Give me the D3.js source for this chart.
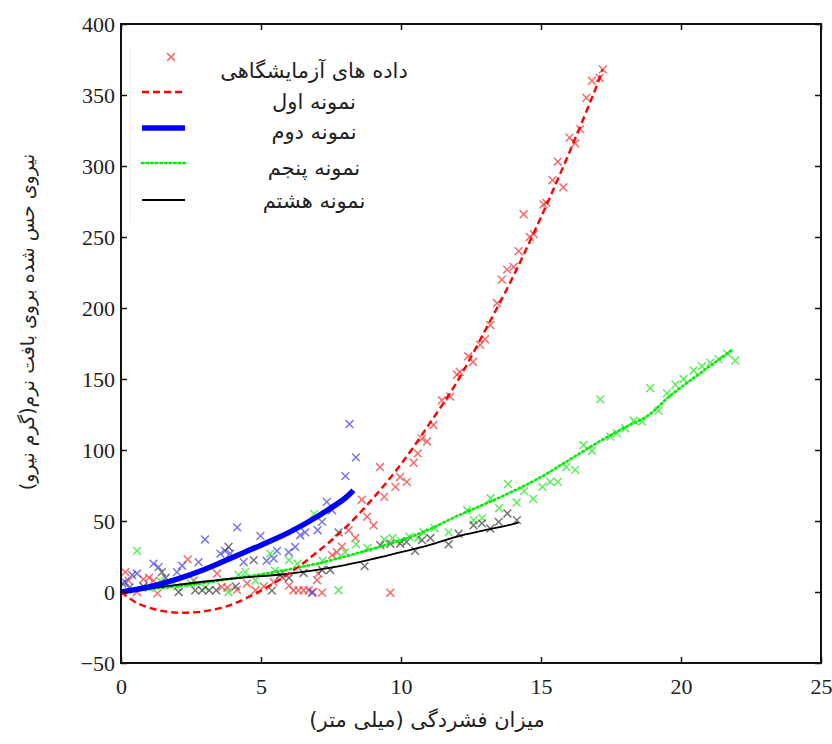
<!DOCTYPE html>
<html><head><meta charset="utf-8">
<script src="https://cdn.jsdelivr.net/npm/d3@7"></script>
<style>
html,body{margin:0;padding:0;background:#fff;}
svg{display:block;}
</style></head>
<body><svg id="chart" width="832" height="744"></svg>
<script>
// ---- data ----
const xTicks = [0, 5, 10, 15, 20, 25];
const yTicks = [-50, 0, 50, 100, 150, 200, 250, 300, 350, 400];
const xTitle = "میزان فشردگی (میلی متر)";
const yTitle = "نیروی حس شده بروی بافت نرم(گرم نیرو)";
const legendLabels = ["داده های آزمایشگاهی", "نمونه اول", "نمونه دوم", "نمونه پنجم", "نمونه هشتم"];

// fitted curves
const curve1 = [[0,0],[0.5,-7],[1,-11],[1.5,-13.5],[2,-14.5],[2.5,-14.5],[3,-13.5],[3.5,-11.5],[4,-8.5],[5,1],[6,13],[7,28],[8,45],[9,66],[10,90],[11,118],[12,148],[13,184],[14,222],[15,264],[16,309],[17,357],[17.2,368]];
const curve2 = [[0,0],[1,3.5],[2,9],[3,16],[4,24.5],[5,33],[6,42],[7,53],[8,66],[8.3,71.5]];
const curve5 = [[0,0],[1,2],[2,4],[3,6.5],[4,9.5],[5,12.5],[6,16],[7,20],[8,25],[9,30.5],[10,36.5],[11,44],[12,53.5],[13,62],[14,71],[15,81],[16,93],[17,105],[18,116],[18.8,124],[19.6,138],[20.4,150],[21.1,160],[21.8,170]];
const curve8 = [[0,0],[2,5],[4,9.5],[6,13],[8,19],[10,28],[11,33],[12,39],[13,43.5],[14,47.8],[14.2,49]];

// experimental points
const pts1 = [[0.15,14],[0.27,8],[0.57,0],[0.8,9],[1.0,10],[1.16,8],[1.3,-1],[2.38,23],[2.6,8],[3.43,13],[3.6,3.5],[3.8,3],[4.14,1.5],[4.5,6],[4.8,1.2],[5.1,4],[5.45,7],[5.75,10.5],[6.0,4.5],[6.16,1.2],[6.34,1.2],[6.52,1.2],[6.7,1.2],[6.85,0],[7.0,8.3],[7.05,13],[7.18,-0.5],[7.54,26],[7.71,28],[7.89,32],[8.13,43.5],[8.37,38],[8.6,65],[8.79,53],[9.02,47],[9.25,88],[9.4,67],[9.62,-0.5],[9.8,74],[9.97,81],[10.21,77.6],[10.45,91],[10.6,97.6],[10.75,108],[10.93,106],[11.16,117.6],[11.46,135],[11.76,137.6],[12.0,153],[12.1,155],[12.4,166],[12.57,162],[12.83,174],[13.0,178],[13.19,188],[13.43,203.5],[13.6,220],[13.79,227],[14.02,229],[14.2,240],[14.38,266],[14.6,250],[14.74,252],[15.09,273],[15.19,274],[15.41,290],[15.6,303],[15.8,285],[16.02,320],[16.22,316],[16.4,326],[16.62,348],[16.82,360],[17.09,362],[17.21,368]];
const pts2 = [[0.05,6],[0.15,7],[0.4,12],[0.57,13],[1.16,20],[1.34,17.5],[2.0,14],[2.18,18.5],[2.77,21],[3.0,37],[3.55,27],[3.72,29],[3.9,27],[4.15,45.5],[4.38,21],[4.98,39.5],[5.2,22],[5.45,23.5],[5.57,29],[5.99,28],[6.22,31.7],[6.4,40],[6.58,42],[6.82,-0.5],[7.02,43.5],[7.18,49.4],[7.35,63.5],[7.54,57.6],[8.01,81.6],[8.16,118.3],[8.39,94.8]];
const pts5 = [[0.57,29],[1.0,3],[1.4,8],[2.0,4],[2.5,6],[3.0,3],[3.84,0],[4.2,12],[4.44,14],[4.8,8],[5.33,27],[5.5,15],[6.0,22.4],[6.3,20],[6.9,55],[7.2,22],[7.77,1.2],[8.0,28],[8.4,33.5],[8.8,31],[9.4,37],[9.7,38],[10.0,36],[10.3,39],[10.6,38],[10.8,42],[11.2,45],[11.7,42],[12.36,57.6],[12.6,50.6],[12.9,52],[13.2,66],[13.5,59],[13.82,76],[14.13,63],[14.4,71],[14.72,65.5],[15.05,74],[15.33,77.6],[15.6,77.6],[15.9,88],[16.22,86],[16.52,103.5],[16.82,99.5],[17.12,135.7],[17.48,109.4],[17.71,111.7],[18.01,115.3],[18.31,120.6],[18.61,120],[18.9,143.5],[19.2,127.7],[19.5,140],[19.8,146],[20.09,150],[20.45,156],[20.75,159],[21.05,161.5],[21.34,164],[21.64,168],[21.94,163]];
const pts8 = [[0.3,3],[0.8,4],[1.46,14],[1.6,10],[2.06,0],[2.65,1.2],[2.9,1.2],[3.15,1.2],[3.4,1.2],[3.84,31.7],[4.1,4],[4.74,22.4],[5.39,1],[5.69,12],[6.0,10],[6.52,13.4],[7.18,15.5],[7.47,15.5],[7.77,42],[8.7,18.2],[9.26,33],[9.62,34],[9.97,34],[10.2,35.3],[10.5,29],[10.75,36.5],[11.05,38],[11.7,33.6],[12.06,41],[12.59,47],[12.89,48.3],[13.19,44.7],[13.49,49.4],[13.8,55.3],[14.14,50.6]];

// ---- drawing ----
const svg = d3.select("#chart");
const L = 121, R = 821, T = 24, B = 663;
const x = d3.scaleLinear().domain([0, 25]).range([L, R]);
const y = d3.scaleLinear().domain([-50, 400]).range([B, T]);

const series = [
  {curve: curve1, pts: pts1, stroke: "#ff0000", width: 2.4, dash: "7,4", mark: "rgba(240,60,60,0.75)"},
  {curve: curve2, pts: pts2, stroke: "#0000ff", width: 5.5, dash: null, mark: "rgba(60,60,230,0.7)"},
  {curve: curve5, pts: pts5, stroke: "#00ee00", width: 2.6, dash: "1.6,3", mark: "rgba(40,230,40,0.75)"},
  {curve: curve8, pts: pts8, stroke: "#000000", width: 1.8, dash: null, mark: "rgba(60,60,60,0.7)"}
];

const plot = svg.append("g");
plot.append("defs").append("clipPath").attr("id","clip").append("rect")
  .attr("x", L).attr("y", T).attr("width", R-L).attr("height", B-T);

const xm = 3.9;
function drawX(g, px, py, color) {
  g.append("path")
    .attr("d", `M${px-xm},${py-xm}L${px+xm},${py+xm}M${px-xm},${py+xm}L${px+xm},${py-xm}`)
    .attr("stroke", color).attr("stroke-width", 1.5).attr("fill", "none");
}

const content = plot.append("g").attr("clip-path", "url(#clip)");
series.forEach(s => {
  const g = content.append("g");
  s.pts.forEach(p => drawX(g, x(p[0]), y(p[1]), s.mark));
});
const line = d3.line().x(d => x(d[0])).y(d => y(d[1])).curve(d3.curveCatmullRom.alpha(0.5));
[2, 3, 1, 0].forEach(i => {
  const s = series[i];
  content.append("path").datum(s.curve).attr("d", line)
    .attr("fill", "none").attr("stroke", s.stroke).attr("stroke-width", s.width)
    .attr("stroke-dasharray", s.dash).attr("stroke-linecap", i === 2 ? "round" : "butt");
});

// axes
const ax = svg.append("g");
ax.append("g").attr("transform", `translate(0,${B})`)
  .call(d3.axisBottom(x).tickValues(xTicks).tickSizeInner(-6).tickSizeOuter(0).tickPadding(15).tickFormat(d3.format("d")));
ax.append("g").attr("transform", `translate(0,${T})`)
  .call(d3.axisTop(x).tickValues(xTicks).tickSizeInner(-6).tickSizeOuter(0).tickFormat(""));
ax.append("g").attr("transform", `translate(${L},0)`)
  .call(d3.axisLeft(y).tickValues(yTicks).tickSizeInner(-6).tickSizeOuter(0).tickPadding(6).tickFormat(d3.format("d")));
ax.append("g").attr("transform", `translate(${R},0)`)
  .call(d3.axisRight(y).tickValues(yTicks).tickSizeInner(-6).tickSizeOuter(0).tickFormat(""));
ax.selectAll(".domain").remove();
ax.selectAll("g").attr("font-family", null).attr("font-size", null);
ax.selectAll(".tick text")
  .attr("font-family", "'Liberation Serif', 'Times New Roman', serif")
  .style("font-family", "'Liberation Serif', 'Times New Roman', serif")
  .style("font-size", "22px").attr("fill", "#222");
ax.selectAll(".tick line").attr("stroke", "#111").attr("stroke-width", 1.5);
ax.append("rect").attr("x", L).attr("y", T).attr("width", R-L).attr("height", B-T)
  .attr("fill", "none").attr("stroke", "#111").attr("stroke-width", 2);

// legend
const lg = svg.append("g");
lg.append("line").attr("x1", 130).attr("x2", 130).attr("y1", 47).attr("y2", 222).attr("stroke", "#eeeeee");
drawX(lg, 171, 57, "rgba(240,60,60,0.75)");
const legY = [92, 128, 163, 200];
series.forEach((s, i) => {
  lg.append("line").attr("x1", 142).attr("x2", 185).attr("y1", legY[i]).attr("y2", legY[i])
    .attr("stroke", s.stroke).attr("stroke-width", s.width).attr("stroke-dasharray", s.dash)
    .attr("stroke-linecap", i === 2 ? "round" : "butt");
});
const textY = [78, 109, 139, 175, 208];
legendLabels.forEach((t, i) => {
  lg.append("text").attr("x", 314).attr("y", textY[i]).attr("text-anchor", "middle")
    .attr("direction", "rtl").style("font-family", "'DejaVu Sans', sans-serif").style("font-size", "21px")
    .attr("fill", "#222").text(t);
});

// titles
svg.append("text").attr("x", 427).attr("y", 727).attr("text-anchor", "middle").attr("direction", "rtl")
  .style("font-family", "'DejaVu Sans', sans-serif").style("font-size", "21px").attr("fill", "#222").text(xTitle);
svg.append("text").attr("transform", "translate(34,322) rotate(-90)").attr("text-anchor", "middle").attr("direction", "rtl")
  .style("font-family", "'DejaVu Sans', sans-serif").style("font-size", "19px").attr("fill", "#222").text(yTitle);
</script></body></html>
